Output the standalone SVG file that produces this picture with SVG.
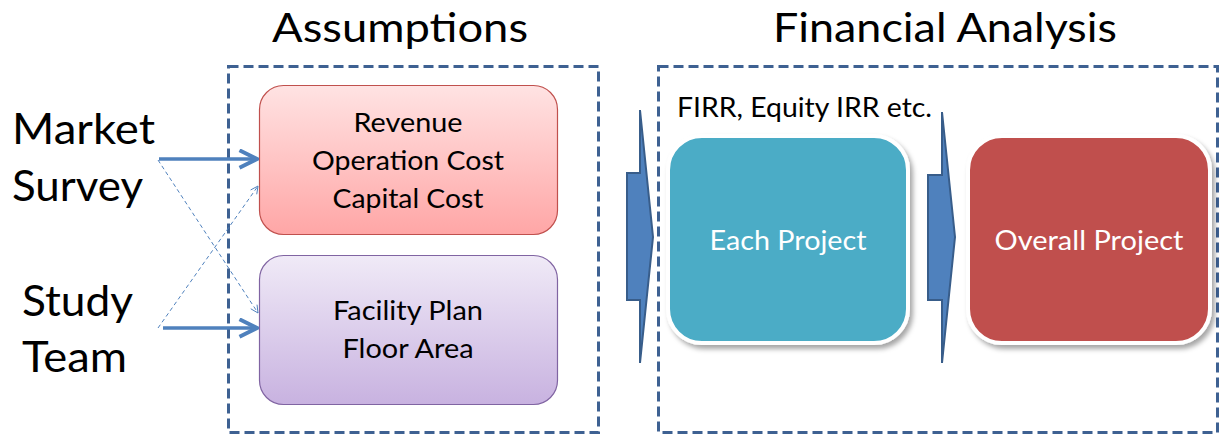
<svg xmlns="http://www.w3.org/2000/svg" width="1220" height="435" viewBox="0 0 1220 435">
<style>
text{font-family:"Lato","Liberation Sans",sans-serif;fill:#000}
.title{font-size:40px;text-anchor:middle}
.side{font-size:42px}
.lbl{font-size:26.5px;text-anchor:middle}
.wlbl{font-size:27px;text-anchor:middle;fill:#fff}
.frame{fill:none;stroke:#3E6192;stroke-width:3;stroke-dasharray:10 5}
.solid{fill:none;stroke:#4F81BD;stroke-width:3.5}
.thin{fill:none;stroke:#4F81BD;stroke-width:1;stroke-dasharray:4 3}
.block{fill:#4F81BD;stroke:#385D8A;stroke-width:2;stroke-linejoin:miter}
</style>
<defs>
<linearGradient id="gRed" x1="0" y1="0" x2="0" y2="1"><stop offset="0" stop-color="#FFE3E3"/><stop offset="1" stop-color="#FFA6A6"/></linearGradient>
<linearGradient id="gPur" x1="0" y1="0" x2="0" y2="1"><stop offset="0" stop-color="#F0EAF7"/><stop offset="1" stop-color="#C8B2E0"/></linearGradient>
<filter id="sh" x="-10%" y="-10%" width="125%" height="125%"><feDropShadow dx="3" dy="4" stdDeviation="2.5" flood-color="#000" flood-opacity="0.35"/></filter>
<marker id="ah" viewBox="0 0 12 12" refX="11" refY="6" markerWidth="6" markerHeight="6" markerUnits="strokeWidth" orient="auto"><path d="M1,1 L11,6 L1,11" fill="none" stroke="#4F81BD" stroke-width="2.2"/></marker>
<marker id="ahs" viewBox="0 0 12 12" refX="11" refY="6" markerWidth="9" markerHeight="9" markerUnits="strokeWidth" orient="auto"><path d="M1,1 L11,6 L1,11" fill="none" stroke="#4F81BD" stroke-width="1.2"/></marker>
</defs>

<g id="titles">
<text class="title" x="400" y="42" textLength="256" lengthAdjust="spacingAndGlyphs">Assumptions</text>
<text class="title" x="945" y="42" textLength="344" lengthAdjust="spacingAndGlyphs">Financial Analysis</text>
</g>

<g id="frames">
<rect class="frame" x="228.5" y="66.5" width="370" height="366"/>
<rect class="frame" x="658.5" y="66.5" width="559" height="366"/>
</g>

<g id="market-survey">
<text class="side" x="12" y="144" textLength="143" lengthAdjust="spacingAndGlyphs">Market</text>
<text class="side" x="12" y="201" textLength="131" lengthAdjust="spacingAndGlyphs">Survey</text>
</g>
<g id="study-team">
<text class="side" x="22" y="316" textLength="111" lengthAdjust="spacingAndGlyphs">Study</text>
<text class="side" x="22" y="372" textLength="105" lengthAdjust="spacingAndGlyphs">Team</text>
</g>

<g id="assumption-cost">
<rect x="259.5" y="85.5" width="298" height="149" rx="24" fill="url(#gRed)" stroke="#C0504D" stroke-width="1.2"/>
<text class="lbl" x="408" y="132" textLength="109" lengthAdjust="spacingAndGlyphs">Revenue</text>
<text class="lbl" x="408" y="170" textLength="192" lengthAdjust="spacingAndGlyphs">Operation Cost</text>
<text class="lbl" x="408" y="208" textLength="151" lengthAdjust="spacingAndGlyphs">Capital Cost</text>
</g>

<g id="assumption-facility">
<rect x="259.5" y="255.5" width="298" height="149" rx="24" fill="url(#gPur)" stroke="#8064A2" stroke-width="1.2"/>
<text class="lbl" x="408" y="320" textLength="150" lengthAdjust="spacingAndGlyphs">Facility Plan</text>
<text class="lbl" x="408" y="358" textLength="131" lengthAdjust="spacingAndGlyphs">Floor Area</text>
</g>

<g id="firr-label">
<text x="677" y="117" style="font-size:27px" textLength="255" lengthAdjust="spacingAndGlyphs">FIRR, Equity IRR etc.</text>
</g>

<g id="each-project">
<rect x="668" y="136" width="240" height="207" rx="34" fill="#4BACC6" stroke="#fff" stroke-width="4" filter="url(#sh)"/>
<text class="wlbl" x="788" y="250" textLength="157" lengthAdjust="spacingAndGlyphs">Each Project</text>
</g>

<g id="overall-project">
<rect x="968" y="136" width="242" height="207" rx="34" fill="#C0504D" stroke="#fff" stroke-width="4" filter="url(#sh)"/>
<text class="wlbl" x="1089" y="250" textLength="189" lengthAdjust="spacingAndGlyphs">Overall Project</text>
</g>

<g id="connectors">
<line class="solid" x1="159" y1="159" x2="257" y2="159" marker-end="url(#ah)"/>
<line class="solid" x1="163" y1="328" x2="257" y2="328" marker-end="url(#ah)"/>
<line class="thin" x1="158" y1="160" x2="258" y2="313" marker-end="url(#ahs)"/>
<line class="thin" x1="158" y1="328" x2="258" y2="186" marker-end="url(#ahs)"/>
<polygon class="block" points="640,110 653,237 640,363 640,300 627,300 627,173 640,173"/>
<polygon class="block" points="942,112 955,237 942,363 942,300 928,300 928,175 942,175"/>
</g>
</svg>
